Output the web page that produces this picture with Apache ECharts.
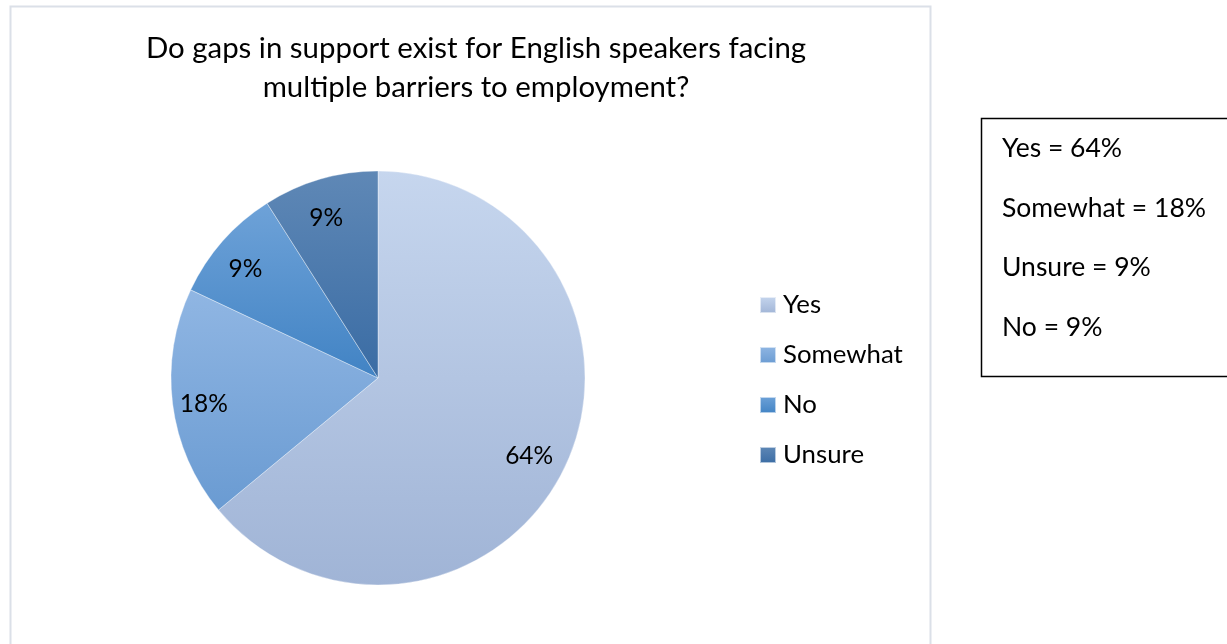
<!DOCTYPE html>
<html>
<head>
<meta charset="utf-8">
<script src="https://cdn.jsdelivr.net/npm/echarts@6/dist/echarts.min.js"></script>
<style>
  html, body { margin: 0; padding: 0; background: #fff; }
  #chart { width: 1227px; height: 644px; }
</style>
</head>
<body>
<div id="chart"></div>
<script>
// Survey answers and their shares (%)
const categories = ['Yes', 'Somewhat', 'No', 'Unsure'];
const shares = [64, 18, 9, 9];
// Top and bottom colours of each slice's vertical gradient
const topColors = ['#c6d6ee', '#90b6e3', '#6ea2d8', '#5f88b6'];
const bottomColors = ['#a0b4d6', '#6a9bd2', '#4183c4', '#3a6ca4'];
// Lines of the summary box beside the chart
const summaryLines = ['Yes = 64%', 'Somewhat = 18%', 'Unsure = 9%', 'No = 9%'];

const titleLines = ['Do gaps in support exist for English speakers facing', 'multiple barriers to employment?'];
const FONT = 'Lato, "Noto Sans", sans-serif';

function grad(i) {
  return new echarts.graphic.LinearGradient(0, 0, 0, 1, [
    { offset: 0, color: topColors[i] },
    { offset: 1, color: bottomColors[i] }
  ]);
}

const pieData = categories.map((name, i) => ({
  name: name,
  value: shares[i],
  itemStyle: { color: grad(i) }
}));

const CENTER = [378, 378];
const R = 207;

const summaryGraphics = summaryLines.map((t, i) => ({
  type: 'text',
  left: 1002,
  top: 135 + i * 59.5,
  style: { text: t, font: '26.5px ' + FONT, fill: '#000' }
}));

const chart = echarts.init(document.getElementById('chart'), null, { renderer: 'canvas' });
chart.setOption({
  backgroundColor: '#fff',
  animation: false,
  title: {
    text: titleLines.join('\n'),
    left: 471,
    textAlign: 'center',
    top: 24,
    textStyle: { fontFamily: FONT, fontSize: 29.4, fontWeight: 'normal', color: '#000', lineHeight: 39 }
  },
  legend: {
    orient: 'vertical',
    left: 754,
    top: 285,
    data: categories,
    icon: 'rect',
    itemWidth: 16,
    itemHeight: 16,
    itemGap: 20,
    textStyle: { fontFamily: FONT, fontSize: 25.8, color: '#000', lineHeight: 30, padding: [0, 0, 0, 2] }
  },
  graphic: [
    {
      type: 'rect',
      shape: { x: 10.5, y: 6.5, width: 920, height: 660 },
      style: { fill: 'none', stroke: '#dbe0e8', lineWidth: 2 },
      silent: true,
      z: -10
    },
    {
      type: 'rect',
      shape: { x: 981.5, y: 118.5, width: 260, height: 258 },
      style: { fill: '#fff', stroke: '#000', lineWidth: 1.5 },
      silent: true
    }
  ].concat(summaryGraphics),
  series: [
    {
      type: 'pie',
      center: CENTER,
      radius: [0, R],
      startAngle: 90,
      clockwise: true,
      label: { show: false },
      labelLine: { show: false },
      itemStyle: { borderColor: 'rgba(255,255,255,0.6)', borderWidth: 0.6 },
      emphasis: { disabled: true },
      data: pieData
    },
    {
      // transparent ring used only to place the percentage labels
      type: 'pie',
      center: CENTER,
      radius: [130, R],
      startAngle: 90,
      clockwise: true,
      silent: true,
      legendHoverLink: false,
      itemStyle: { color: 'rgba(0,0,0,0)' },
      label: {
        show: true,
        position: 'inside',
        formatter: '{c}%',
        fontFamily: FONT,
        fontSize: 24.5,
        color: '#000',
        offset: [-4, 5]
      },
      labelLine: { show: false },
      emphasis: { disabled: true },
      data: categories.map((name, i) => ({ name: name, value: shares[i] }))
    }
  ]
});
</script>
</body>
</html>
